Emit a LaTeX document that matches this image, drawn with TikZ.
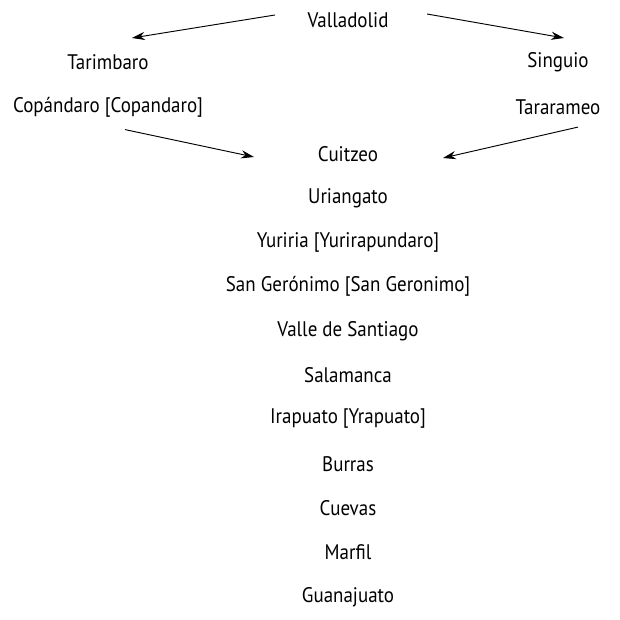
\documentclass[tikz,border=0pt]{standalone}
\usepackage{fontspec}
\setmainfont{PT Sans}[FakeStretch=0.9]
\usetikzlibrary{calc, arrows.meta}

\begin{document}
\begin{tikzpicture}[
    x=0.03cm, y=-0.03cm,
    place/.style={font=\fontsize{18}{21}\selectfont, inner sep=2pt},
    arr/.style={-{Stealth[length=11pt, width=7pt]}, thick},
  ]
  \useasboundingbox (0,0) rectangle (619,620);

  % Start of the route
  \node[place] (valladolid) at (348, 20) {Valladolid};

  % Two branches
  \node[place] (tarimbaro) at (108, 62)  {Tarimbaro};
  \node[place] (copandaro) at (108, 107) {Copándaro [Copandaro]};
  \node[place] (singuio)   at (558, 62)  {Singuio};
  \node[place] (tararameo) at (558, 107) {Tararameo};

  % Main line
  \node[place] (cuitzeo)   at (348, 154) {Cuitzeo};
  \node[place] (uriangato) at (348, 198) {Uriangato};
  \node[place] (yuriria)   at (348, 242) {Yuriria [Yurirapundaro]};
  \node[place] (geronimo)  at (348, 286) {San Gerónimo [San Geronimo]};
  \node[place] (valle)     at (348, 331) {Valle de Santiago};
  \node[place] (salamanca) at (348, 375) {Salamanca};
  \node[place] (irapuato)  at (348, 419) {Irapuato [Yrapuato]};
  \node[place] (burras)    at (348, 464) {Burras};
  \node[place] (cuevas)    at (348, 508) {Cuevas};
  \node[place] (marfil)    at (348, 552) {Marfil};
  \node[place] (guanajuato) at (348, 597) {Guanajuato};

  % Arrow heads
  \coordinate (tarimbaro-in) at (132, 38);
  \coordinate (singuio-in)   at (564, 38);
  \coordinate (cuitzeo-l)    at (254, 157);
  \coordinate (cuitzeo-r)    at (443, 158);

  % Arrows
  \draw[arr] ($(valladolid.west)+(-30,-5)$) -- (tarimbaro-in);
  \draw[arr] ($(valladolid.east)+(36,-6)$)  -- (singuio-in);
  \draw[arr] ($(copandaro.south)+(17,10)$)  -- (cuitzeo-l);
  \draw[arr] ($(tararameo.south)+(20,10)$)  -- (cuitzeo-r);

\end{tikzpicture}
\end{document}
